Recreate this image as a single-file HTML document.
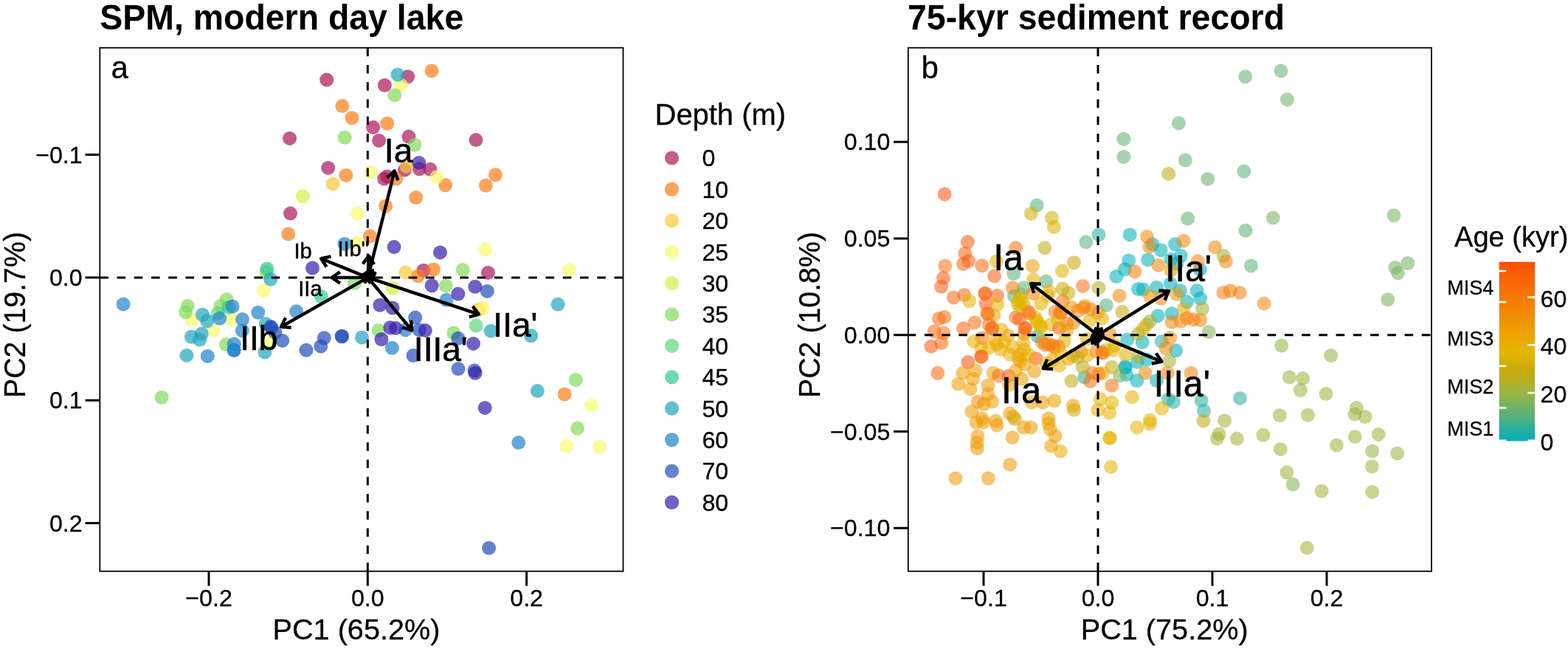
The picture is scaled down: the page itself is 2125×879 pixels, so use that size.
<!DOCTYPE html>
<html lang="en"><head><meta charset="utf-8"><title>PCA biplots</title>
<style>html,body{margin:0;padding:0;background:#fff}body{width:2125px;height:879px;overflow:hidden}svg{display:block;filter:blur(0.4px)}</style>
</head><body>
<svg width="2125" height="879" viewBox="0 0 2125 879" font-family='"Liberation Sans", Arial, Helvetica, sans-serif'>
<rect width="2125" height="879" fill="#fff"/>
<clipPath id="ca"><rect x="135.3" y="64.7" width="709.2" height="709.0"/></clipPath>
<g clip-path="url(#ca)" fill-opacity="0.7">
<circle cx="442.7" cy="108.1" r="9.5" fill="#AB165B"/>
<circle cx="392.5" cy="187.4" r="9.5" fill="#AB165B"/>
<circle cx="552.7" cy="103.8" r="9.5" fill="#AB165B"/>
<circle cx="521.4" cy="115.5" r="9.5" fill="#AB165B"/>
<circle cx="505.6" cy="172.5" r="9.5" fill="#AB165B"/>
<circle cx="513.6" cy="190.4" r="9.5" fill="#AB165B"/>
<circle cx="553.9" cy="185.1" r="9.5" fill="#AB165B"/>
<circle cx="645.0" cy="189.6" r="9.5" fill="#AB165B"/>
<circle cx="444.7" cy="227.4" r="9.5" fill="#AB165B"/>
<circle cx="393.5" cy="289.1" r="9.5" fill="#AB165B"/>
<circle cx="520.6" cy="242.1" r="9.5" fill="#AB165B"/>
<circle cx="524.6" cy="239.1" r="9.5" fill="#AB165B"/>
<circle cx="548.5" cy="230.1" r="9.5" fill="#AB165B"/>
<circle cx="568.3" cy="228.7" r="9.5" fill="#AB165B"/>
<circle cx="582.8" cy="229.2" r="9.5" fill="#AB165B"/>
<circle cx="574.0" cy="366.3" r="9.5" fill="#AB165B"/>
<circle cx="661.5" cy="369.4" r="9.5" fill="#AB165B"/>
<circle cx="463.8" cy="143.6" r="9.5" fill="#FB7C16"/>
<circle cx="477.0" cy="159.8" r="9.5" fill="#FB7C16"/>
<circle cx="585.0" cy="95.9" r="9.5" fill="#FB7C16"/>
<circle cx="524.8" cy="167.3" r="9.5" fill="#FB7C16"/>
<circle cx="468.9" cy="237.4" r="9.5" fill="#FB7C16"/>
<circle cx="390.7" cy="317.0" r="9.5" fill="#FB7C16"/>
<circle cx="536.8" cy="242.1" r="9.5" fill="#FB7C16"/>
<circle cx="603.7" cy="250.8" r="9.5" fill="#FB7C16"/>
<circle cx="671.4" cy="236.7" r="9.5" fill="#FB7C16"/>
<circle cx="658.4" cy="251.3" r="9.5" fill="#FB7C16"/>
<circle cx="563.7" cy="267.5" r="9.5" fill="#FB7C16"/>
<circle cx="522.6" cy="278.9" r="9.5" fill="#FB7C16"/>
<circle cx="501.4" cy="319.9" r="9.5" fill="#FB7C16"/>
<circle cx="566.5" cy="373.8" r="9.5" fill="#FB7C16"/>
<circle cx="587.5" cy="365.0" r="9.5" fill="#FB7C16"/>
<circle cx="765.1" cy="534.0" r="9.5" fill="#FB7C16"/>
<circle cx="451.1" cy="249.1" r="9.5" fill="#FCC737"/>
<circle cx="551.0" cy="225.4" r="9.5" fill="#FCC737"/>
<circle cx="549.6" cy="369.0" r="9.5" fill="#FCC737"/>
<circle cx="649.2" cy="419.1" r="9.5" fill="#FCC737"/>
<circle cx="543.5" cy="115.2" r="9.5" fill="#F9F96C"/>
<circle cx="484.5" cy="289.3" r="9.5" fill="#F9F96C"/>
<circle cx="483.7" cy="329.1" r="9.5" fill="#F9F96C"/>
<circle cx="503.0" cy="233.4" r="9.5" fill="#F9F96C"/>
<circle cx="592.0" cy="239.6" r="9.5" fill="#F9F96C"/>
<circle cx="657.7" cy="338.3" r="9.5" fill="#F9F96C"/>
<circle cx="357.2" cy="393.5" r="9.5" fill="#F9F96C"/>
<circle cx="260.0" cy="433.2" r="9.5" fill="#F9F96C"/>
<circle cx="313.2" cy="432.6" r="9.5" fill="#F9F96C"/>
<circle cx="288.8" cy="447.6" r="9.5" fill="#F9F96C"/>
<circle cx="367.7" cy="462.6" r="9.5" fill="#F9F96C"/>
<circle cx="771.6" cy="365.7" r="9.5" fill="#F9F96C"/>
<circle cx="654.5" cy="417.2" r="9.5" fill="#F9F96C"/>
<circle cx="801.4" cy="549.1" r="9.5" fill="#F9F96C"/>
<circle cx="767.9" cy="604.2" r="9.5" fill="#F9F96C"/>
<circle cx="812.7" cy="605.4" r="9.5" fill="#F9F96C"/>
<circle cx="410.6" cy="265.8" r="9.5" fill="#D1F147"/>
<circle cx="532.0" cy="390.5" r="9.5" fill="#D1F147"/>
<circle cx="467.1" cy="186.2" r="9.5" fill="#83DA5B"/>
<circle cx="534.8" cy="129.0" r="9.5" fill="#83DA5B"/>
<circle cx="561.9" cy="196.3" r="9.5" fill="#83DA5B"/>
<circle cx="361.0" cy="368.5" r="9.5" fill="#83DA5B"/>
<circle cx="480.4" cy="383.5" r="9.5" fill="#83DA5B"/>
<circle cx="254.2" cy="414.4" r="9.5" fill="#83DA5B"/>
<circle cx="251.5" cy="422.8" r="9.5" fill="#83DA5B"/>
<circle cx="307.0" cy="405.6" r="9.5" fill="#83DA5B"/>
<circle cx="298.8" cy="414.4" r="9.5" fill="#83DA5B"/>
<circle cx="306.4" cy="466.6" r="9.5" fill="#83DA5B"/>
<circle cx="604.3" cy="387.1" r="9.5" fill="#83DA5B"/>
<circle cx="627.3" cy="365.6" r="9.5" fill="#83DA5B"/>
<circle cx="513.2" cy="447.6" r="9.5" fill="#83DA5B"/>
<circle cx="614.7" cy="451.0" r="9.5" fill="#83DA5B"/>
<circle cx="780.2" cy="514.5" r="9.5" fill="#83DA5B"/>
<circle cx="782.6" cy="580.0" r="9.5" fill="#83DA5B"/>
<circle cx="219.1" cy="538.2" r="9.5" fill="#83DA5B"/>
<circle cx="295.1" cy="424.4" r="9.5" fill="#5ED67D"/>
<circle cx="645.2" cy="441.1" r="9.5" fill="#5ED67D"/>
<circle cx="361.9" cy="364.0" r="9.5" fill="#30C995"/>
<circle cx="435.2" cy="401.5" r="9.5" fill="#30C995"/>
<circle cx="310.1" cy="416.3" r="9.5" fill="#30C995"/>
<circle cx="539.0" cy="101.3" r="9.5" fill="#1FA5BC"/>
<circle cx="366.6" cy="378.2" r="9.5" fill="#1FA5BC"/>
<circle cx="274.4" cy="426.3" r="9.5" fill="#1FA5BC"/>
<circle cx="280.7" cy="434.8" r="9.5" fill="#1FA5BC"/>
<circle cx="259.4" cy="456.3" r="9.5" fill="#1FA5BC"/>
<circle cx="273.2" cy="452.0" r="9.5" fill="#1FA5BC"/>
<circle cx="270.7" cy="460.1" r="9.5" fill="#1FA5BC"/>
<circle cx="252.9" cy="481.4" r="9.5" fill="#1FA5BC"/>
<circle cx="360.2" cy="438.8" r="9.5" fill="#1FA5BC"/>
<circle cx="358.9" cy="477.0" r="9.5" fill="#1FA5BC"/>
<circle cx="756.1" cy="412.3" r="9.5" fill="#1FA5BC"/>
<circle cx="665.3" cy="448.3" r="9.5" fill="#1FA5BC"/>
<circle cx="490.5" cy="457.0" r="9.5" fill="#1FA5BC"/>
<circle cx="719.6" cy="454.8" r="9.5" fill="#1FA5BC"/>
<circle cx="728.3" cy="529.6" r="9.5" fill="#1FA5BC"/>
<circle cx="466.9" cy="330.4" r="9.5" fill="#1F83CA"/>
<circle cx="167.1" cy="412.1" r="9.5" fill="#1F83CA"/>
<circle cx="401.7" cy="421.8" r="9.5" fill="#1F83CA"/>
<circle cx="315.1" cy="415.0" r="9.5" fill="#1F83CA"/>
<circle cx="297.6" cy="431.3" r="9.5" fill="#1F83CA"/>
<circle cx="281.3" cy="482.4" r="9.5" fill="#1F83CA"/>
<circle cx="317.2" cy="466.1" r="9.5" fill="#1F83CA"/>
<circle cx="317.0" cy="474.1" r="9.5" fill="#1F83CA"/>
<circle cx="328.5" cy="432.6" r="9.5" fill="#1F83CA"/>
<circle cx="328.3" cy="447.8" r="9.5" fill="#1F83CA"/>
<circle cx="349.8" cy="423.2" r="9.5" fill="#1F83CA"/>
<circle cx="605.0" cy="406.3" r="9.5" fill="#1F83CA"/>
<circle cx="549.4" cy="446.9" r="9.5" fill="#1F83CA"/>
<circle cx="531.3" cy="471.3" r="9.5" fill="#1F83CA"/>
<circle cx="702.7" cy="599.6" r="9.5" fill="#1F83CA"/>
<circle cx="317.2" cy="474.6" r="9.5" fill="#1F83CA"/>
<circle cx="367.1" cy="442.6" r="9.5" fill="#224FB9"/>
<circle cx="372.7" cy="450.1" r="9.5" fill="#224FB9"/>
<circle cx="382.7" cy="461.4" r="9.5" fill="#224FB9"/>
<circle cx="415.0" cy="474.3" r="9.5" fill="#224FB9"/>
<circle cx="434.8" cy="469.0" r="9.5" fill="#224FB9"/>
<circle cx="439.3" cy="457.7" r="9.5" fill="#224FB9"/>
<circle cx="463.1" cy="455.2" r="9.5" fill="#224FB9"/>
<circle cx="463.6" cy="455.8" r="9.5" fill="#224FB9"/>
<circle cx="562.7" cy="430.1" r="9.5" fill="#224FB9"/>
<circle cx="660.3" cy="394.4" r="9.5" fill="#224FB9"/>
<circle cx="568.2" cy="446.9" r="9.5" fill="#224FB9"/>
<circle cx="560.0" cy="481.5" r="9.5" fill="#224FB9"/>
<circle cx="620.9" cy="458.2" r="9.5" fill="#224FB9"/>
<circle cx="621.0" cy="499.6" r="9.5" fill="#224FB9"/>
<circle cx="643.0" cy="501.8" r="9.5" fill="#224FB9"/>
<circle cx="662.6" cy="742.3" r="9.5" fill="#224FB9"/>
<circle cx="367.6" cy="443.6" r="9.5" fill="#224FB9"/>
<circle cx="567.8" cy="220.4" r="9.5" fill="#361CAB"/>
<circle cx="534.0" cy="334.6" r="9.5" fill="#361CAB"/>
<circle cx="596.5" cy="341.9" r="9.5" fill="#361CAB"/>
<circle cx="423.5" cy="363.0" r="9.5" fill="#361CAB"/>
<circle cx="585.2" cy="386.8" r="9.5" fill="#361CAB"/>
<circle cx="514.9" cy="413.2" r="9.5" fill="#361CAB"/>
<circle cx="532.0" cy="417.0" r="9.5" fill="#361CAB"/>
<circle cx="620.8" cy="398.1" r="9.5" fill="#361CAB"/>
<circle cx="643.9" cy="388.2" r="9.5" fill="#361CAB"/>
<circle cx="528.8" cy="443.8" r="9.5" fill="#361CAB"/>
<circle cx="536.3" cy="444.4" r="9.5" fill="#361CAB"/>
<circle cx="576.3" cy="447.6" r="9.5" fill="#361CAB"/>
<circle cx="516.9" cy="459.5" r="9.5" fill="#361CAB"/>
<circle cx="641.5" cy="465.4" r="9.5" fill="#361CAB"/>
<circle cx="644.0" cy="505.3" r="9.5" fill="#361CAB"/>
<circle cx="657.2" cy="552.4" r="9.5" fill="#361CAB"/>
</g>
<path d="M135.3 375.9H844.5" stroke="#000" stroke-width="3" stroke-dasharray="11.62 11.62" fill="none"/>
<path d="M498.3 64.7V773.7" stroke="#000" stroke-width="3" stroke-dasharray="11.62 11.62" fill="none"/>
<rect x="135.3" y="64.7" width="709.2" height="709.0" fill="none" stroke="#000" stroke-width="1.8"/>
<path d="M283.0 773.7v19.8" stroke="#000" stroke-width="3"/>
<text transform="translate(283.00 821.00) scale(1 1.0)" font-size="32.2" text-anchor="middle" stroke="#000" stroke-width="0.3" stroke-linejoin="round">−0.2</text>
<path d="M498.3 773.7v19.8" stroke="#000" stroke-width="3"/>
<text transform="translate(498.30 821.00) scale(1 1.0)" font-size="32.2" text-anchor="middle" stroke="#000" stroke-width="0.3" stroke-linejoin="round">0.0</text>
<path d="M713.6 773.7v19.8" stroke="#000" stroke-width="3"/>
<text transform="translate(713.60 821.00) scale(1 1.0)" font-size="32.2" text-anchor="middle" stroke="#000" stroke-width="0.3" stroke-linejoin="round">0.2</text>
<path d="M135.3 209.5h-19.8" stroke="#000" stroke-width="3"/>
<text transform="translate(111.70 220.60) scale(1 1.0)" font-size="32.2" text-anchor="end" stroke="#000" stroke-width="0.3" stroke-linejoin="round">−0.1</text>
<path d="M135.3 375.9h-19.8" stroke="#000" stroke-width="3"/>
<text transform="translate(111.70 387.00) scale(1 1.0)" font-size="32.2" text-anchor="end" stroke="#000" stroke-width="0.3" stroke-linejoin="round">0.0</text>
<path d="M135.3 542.2h-19.8" stroke="#000" stroke-width="3"/>
<text transform="translate(111.70 553.30) scale(1 1.0)" font-size="32.2" text-anchor="end" stroke="#000" stroke-width="0.3" stroke-linejoin="round">0.1</text>
<path d="M135.3 708.5h-19.8" stroke="#000" stroke-width="3"/>
<text transform="translate(111.70 719.60) scale(1 1.0)" font-size="32.2" text-anchor="end" stroke="#000" stroke-width="0.3" stroke-linejoin="round">0.2</text>
<text transform="translate(135.30 40.40) scale(1 1.03)" font-size="46.45" text-anchor="start" font-weight="bold">SPM, modern day lake</text>
<text transform="translate(483.00 866.00) scale(1 1.0)" font-size="39.65" text-anchor="middle" stroke="#000" stroke-width="0.3" stroke-linejoin="round">PC1 (65.2%)</text>
<text transform="translate(33.80 426.50) rotate(-90) scale(1 1.02)" font-size="39.3" text-anchor="middle" stroke="#000" stroke-width="0.3" stroke-linejoin="round">PC2 (19.7%)</text>
<text transform="translate(150.40 105.60) scale(1 1.0)" font-size="42.0" text-anchor="start" stroke="#000" stroke-width="0.3" stroke-linejoin="round">a</text>
<text transform="translate(887.60 168.90) scale(1 1.0)" font-size="39.9" text-anchor="start" stroke="#000" stroke-width="0.3" stroke-linejoin="round">Depth (m)</text>
<circle cx="910.5" cy="214.0" r="9.6" fill="#C45C8C"/>
<text transform="translate(951.40 225.40) scale(1 1.0)" font-size="32.2" text-anchor="start" stroke="#000" stroke-width="0.3" stroke-linejoin="round">0</text>
<circle cx="910.5" cy="256.4" r="9.6" fill="#FCA35C"/>
<text transform="translate(951.40 267.80) scale(1 1.0)" font-size="32.2" text-anchor="start" stroke="#000" stroke-width="0.3" stroke-linejoin="round">10</text>
<circle cx="910.5" cy="298.8" r="9.6" fill="#FDD873"/>
<text transform="translate(951.40 310.20) scale(1 1.0)" font-size="32.2" text-anchor="start" stroke="#000" stroke-width="0.3" stroke-linejoin="round">20</text>
<circle cx="910.5" cy="341.2" r="9.6" fill="#FBFB98"/>
<text transform="translate(951.40 352.60) scale(1 1.0)" font-size="32.2" text-anchor="start" stroke="#000" stroke-width="0.3" stroke-linejoin="round">25</text>
<circle cx="910.5" cy="383.6" r="9.6" fill="#DFF57E"/>
<text transform="translate(951.40 395.00) scale(1 1.0)" font-size="32.2" text-anchor="start" stroke="#000" stroke-width="0.3" stroke-linejoin="round">30</text>
<circle cx="910.5" cy="426.0" r="9.6" fill="#A8E58C"/>
<text transform="translate(951.40 437.40) scale(1 1.0)" font-size="32.2" text-anchor="start" stroke="#000" stroke-width="0.3" stroke-linejoin="round">35</text>
<circle cx="910.5" cy="468.4" r="9.6" fill="#8EE2A4"/>
<text transform="translate(951.40 479.80) scale(1 1.0)" font-size="32.2" text-anchor="start" stroke="#000" stroke-width="0.3" stroke-linejoin="round">40</text>
<circle cx="910.5" cy="510.8" r="9.6" fill="#6ED9B5"/>
<text transform="translate(951.40 522.20) scale(1 1.0)" font-size="32.2" text-anchor="start" stroke="#000" stroke-width="0.3" stroke-linejoin="round">45</text>
<circle cx="910.5" cy="553.2" r="9.6" fill="#62C0D0"/>
<text transform="translate(951.40 564.60) scale(1 1.0)" font-size="32.2" text-anchor="start" stroke="#000" stroke-width="0.3" stroke-linejoin="round">50</text>
<circle cx="910.5" cy="595.6" r="9.6" fill="#62A8DA"/>
<text transform="translate(951.40 607.00) scale(1 1.0)" font-size="32.2" text-anchor="start" stroke="#000" stroke-width="0.3" stroke-linejoin="round">60</text>
<circle cx="910.5" cy="638.0" r="9.6" fill="#6484CE"/>
<text transform="translate(951.40 649.40) scale(1 1.0)" font-size="32.2" text-anchor="start" stroke="#000" stroke-width="0.3" stroke-linejoin="round">70</text>
<circle cx="910.5" cy="680.4" r="9.6" fill="#7260C4"/>
<text transform="translate(951.40 691.80) scale(1 1.0)" font-size="32.2" text-anchor="start" stroke="#000" stroke-width="0.3" stroke-linejoin="round">80</text>
<clipPath id="cb"><rect x="1230.8" y="64.7" width="709.2" height="709.0"/></clipPath>
<g clip-path="url(#cb)" fill-opacity="0.57">
<circle cx="1522.8" cy="188.2" r="9.5" fill="#62B272"/>
<circle cx="1522.8" cy="212.5" r="9.5" fill="#62B272"/>
<circle cx="1687.7" cy="103.8" r="9.5" fill="#62B272"/>
<circle cx="1736.0" cy="95.9" r="9.5" fill="#62B272"/>
<circle cx="1597.4" cy="166.7" r="9.5" fill="#62B272"/>
<circle cx="1405.2" cy="278.1" r="9.5" fill="#54B17E"/>
<circle cx="1489.0" cy="317.9" r="9.5" fill="#22B0A4"/>
<circle cx="1471.8" cy="327.7" r="9.5" fill="#5BB178"/>
<circle cx="1531.2" cy="317.9" r="9.5" fill="#00AFBB"/>
<circle cx="1373.8" cy="370.5" r="9.5" fill="#54B17E"/>
<circle cx="1417.6" cy="381.3" r="9.5" fill="#54B17E"/>
<circle cx="1387.2" cy="390.0" r="9.5" fill="#54B17E"/>
<circle cx="1374.3" cy="400.9" r="9.5" fill="#54B17E"/>
<circle cx="1406.2" cy="455.5" r="9.5" fill="#2AB09E"/>
<circle cx="1561.8" cy="330.7" r="9.5" fill="#00AFBB"/>
<circle cx="1573.2" cy="338.7" r="9.5" fill="#00AFBB"/>
<circle cx="1592.5" cy="330.7" r="9.5" fill="#00AFBB"/>
<circle cx="1600.5" cy="346.6" r="9.5" fill="#00AFBB"/>
<circle cx="1609.6" cy="296.0" r="9.5" fill="#62B272"/>
<circle cx="1529.7" cy="352.9" r="9.5" fill="#00AFBB"/>
<circle cx="1524.3" cy="364.8" r="9.5" fill="#00AFBB"/>
<circle cx="1512.9" cy="374.5" r="9.5" fill="#00AFBB"/>
<circle cx="1555.6" cy="351.8" r="9.5" fill="#00AFBB"/>
<circle cx="1586.9" cy="351.2" r="9.5" fill="#00AFBB"/>
<circle cx="1594.8" cy="356.9" r="9.5" fill="#00AFBB"/>
<circle cx="1542.5" cy="391.4" r="9.5" fill="#00AFBB"/>
<circle cx="1549.3" cy="392.0" r="9.5" fill="#00AFBB"/>
<circle cx="1567.5" cy="389.2" r="9.5" fill="#00AFBB"/>
<circle cx="1586.3" cy="384.2" r="9.5" fill="#00AFBB"/>
<circle cx="1599.4" cy="393.7" r="9.5" fill="#00AFBB"/>
<circle cx="1622.1" cy="393.6" r="9.5" fill="#00AFBB"/>
<circle cx="1499.3" cy="413.4" r="9.5" fill="#54B17E"/>
<circle cx="1608.5" cy="408.8" r="9.5" fill="#00AFBB"/>
<circle cx="1626.7" cy="404.2" r="9.5" fill="#00AFBB"/>
<circle cx="1588.0" cy="424.8" r="9.5" fill="#00AFBB"/>
<circle cx="1569.2" cy="427.7" r="9.5" fill="#00AFBB"/>
<circle cx="1574.3" cy="462.4" r="9.5" fill="#2AB09E"/>
<circle cx="1548.2" cy="463.5" r="9.5" fill="#00AFBB"/>
<circle cx="1527.7" cy="460.1" r="9.5" fill="#00AFBB"/>
<circle cx="1593.6" cy="474.8" r="9.5" fill="#00AFBB"/>
<circle cx="1567.5" cy="515.5" r="9.5" fill="#00AFBB"/>
<circle cx="1540.8" cy="515.5" r="9.5" fill="#00AFBB"/>
<circle cx="1524.9" cy="496.7" r="9.5" fill="#00AFBB"/>
<circle cx="1526.6" cy="507.5" r="9.5" fill="#00AFBB"/>
<circle cx="1469.7" cy="511.0" r="9.5" fill="#2AB09E"/>
<circle cx="1541.4" cy="490.5" r="9.5" fill="#00AFBB"/>
<circle cx="1553.9" cy="487.1" r="9.5" fill="#00AFBB"/>
<circle cx="1583.4" cy="540.5" r="9.5" fill="#2AB09E"/>
<circle cx="1590.3" cy="544.5" r="9.5" fill="#2AB09E"/>
<circle cx="1628.2" cy="542.5" r="9.5" fill="#2AB09E"/>
<circle cx="1631.5" cy="556.5" r="9.5" fill="#2AB09E"/>
<circle cx="1685.8" cy="232.1" r="9.5" fill="#5BB178"/>
<circle cx="1688.0" cy="312.3" r="9.5" fill="#5BB178"/>
<circle cx="1695.5" cy="360.0" r="9.5" fill="#5BB178"/>
<circle cx="1626.1" cy="365.1" r="9.5" fill="#00AFBB"/>
<circle cx="1680.5" cy="539.4" r="9.5" fill="#2AB09E"/>
<circle cx="1525.3" cy="497.6" r="9.5" fill="#00AFBB"/>
<circle cx="1744.5" cy="134.7" r="9.5" fill="#71B366"/>
<circle cx="1606.4" cy="217.0" r="9.5" fill="#6AB26C"/>
<circle cx="1280.2" cy="263.0" r="9.5" fill="#FC5417"/>
<circle cx="1397.4" cy="289.3" r="9.5" fill="#D5AF06"/>
<circle cx="1425.5" cy="295.1" r="9.5" fill="#D5AF06"/>
<circle cx="1428.3" cy="307.5" r="9.5" fill="#DEB303"/>
<circle cx="1583.8" cy="235.4" r="9.5" fill="#C1AB13"/>
<circle cx="1554.6" cy="320.6" r="9.5" fill="#F3880C"/>
<circle cx="1415.8" cy="335.8" r="9.5" fill="#C1AB13"/>
<circle cx="1311.4" cy="327.8" r="9.5" fill="#FB5C17"/>
<circle cx="1307.8" cy="343.2" r="9.5" fill="#F96715"/>
<circle cx="1305.5" cy="357.5" r="9.5" fill="#F96715"/>
<circle cx="1312.7" cy="353.5" r="9.5" fill="#FA6115"/>
<circle cx="1280.7" cy="360.3" r="9.5" fill="#F87215"/>
<circle cx="1278.6" cy="376.5" r="9.5" fill="#FB5C17"/>
<circle cx="1275.6" cy="388.3" r="9.5" fill="#FB5C17"/>
<circle cx="1330.8" cy="359.7" r="9.5" fill="#F86C15"/>
<circle cx="1350.5" cy="354.0" r="9.5" fill="#E9AF01"/>
<circle cx="1347.6" cy="373.9" r="9.5" fill="#FA6115"/>
<circle cx="1376.6" cy="335.8" r="9.5" fill="#F67614"/>
<circle cx="1399.4" cy="360.3" r="9.5" fill="#EDA203"/>
<circle cx="1400.5" cy="378.5" r="9.5" fill="#DEB303"/>
<circle cx="1372.4" cy="389.8" r="9.5" fill="#F48110"/>
<circle cx="1383.4" cy="399.0" r="9.5" fill="#9AB442"/>
<circle cx="1422.1" cy="394.4" r="9.5" fill="#E7B400"/>
<circle cx="1292.4" cy="403.0" r="9.5" fill="#F86C15"/>
<circle cx="1306.7" cy="399.6" r="9.5" fill="#F86C15"/>
<circle cx="1313.5" cy="407.8" r="9.5" fill="#E9AF01"/>
<circle cx="1334.9" cy="397.5" r="9.5" fill="#F96715"/>
<circle cx="1351.5" cy="400.5" r="9.5" fill="#FA6115"/>
<circle cx="1336.2" cy="411.2" r="9.5" fill="#FB5C17"/>
<circle cx="1351.6" cy="412.3" r="9.5" fill="#E9AF01"/>
<circle cx="1337.9" cy="423.7" r="9.5" fill="#F67614"/>
<circle cx="1347.0" cy="427.1" r="9.5" fill="#EAAA02"/>
<circle cx="1272.5" cy="431.6" r="9.5" fill="#F86C15"/>
<circle cx="1279.9" cy="429.4" r="9.5" fill="#F87215"/>
<circle cx="1266.3" cy="448.7" r="9.5" fill="#F86C15"/>
<circle cx="1278.8" cy="451.0" r="9.5" fill="#F87215"/>
<circle cx="1261.9" cy="469.2" r="9.5" fill="#FB5C17"/>
<circle cx="1275.9" cy="464.6" r="9.5" fill="#F86C15"/>
<circle cx="1305.5" cy="444.7" r="9.5" fill="#F86C15"/>
<circle cx="1320.9" cy="436.8" r="9.5" fill="#F87215"/>
<circle cx="1344.8" cy="444.2" r="9.5" fill="#F96715"/>
<circle cx="1340.2" cy="439.6" r="9.5" fill="#F67614"/>
<circle cx="1357.3" cy="446.4" r="9.5" fill="#E9AF01"/>
<circle cx="1366.4" cy="454.4" r="9.5" fill="#EF9A04"/>
<circle cx="1331.1" cy="457.8" r="9.5" fill="#F67614"/>
<circle cx="1319.7" cy="462.4" r="9.5" fill="#EAAA02"/>
<circle cx="1350.5" cy="466.9" r="9.5" fill="#E9AF01"/>
<circle cx="1330.0" cy="471.5" r="9.5" fill="#E9AF01"/>
<circle cx="1330.0" cy="483.0" r="9.5" fill="#FA6115"/>
<circle cx="1368.2" cy="479.8" r="9.5" fill="#E7B400"/>
<circle cx="1376.6" cy="429.9" r="9.5" fill="#F96715"/>
<circle cx="1392.5" cy="421.4" r="9.5" fill="#F87215"/>
<circle cx="1389.1" cy="444.2" r="9.5" fill="#F96715"/>
<circle cx="1388.0" cy="452.1" r="9.5" fill="#F87215"/>
<circle cx="1380.0" cy="406.6" r="9.5" fill="#E2B501"/>
<circle cx="1386.9" cy="411.2" r="9.5" fill="#E2B501"/>
<circle cx="1383.0" cy="416.0" r="9.5" fill="#DAB104"/>
<circle cx="1405.1" cy="433.9" r="9.5" fill="#E2B501"/>
<circle cx="1410.8" cy="441.9" r="9.5" fill="#E2B501"/>
<circle cx="1410.8" cy="411.2" r="9.5" fill="#E9AF01"/>
<circle cx="1400.5" cy="397.5" r="9.5" fill="#F48110"/>
<circle cx="1419.9" cy="400.9" r="9.5" fill="#E9AF01"/>
<circle cx="1416.4" cy="466.9" r="9.5" fill="#F67614"/>
<circle cx="1426.7" cy="468.0" r="9.5" fill="#F67C14"/>
<circle cx="1386.9" cy="464.6" r="9.5" fill="#E9AF01"/>
<circle cx="1388.0" cy="473.7" r="9.5" fill="#EAAA02"/>
<circle cx="1403.9" cy="485.5" r="9.5" fill="#FC5417"/>
<circle cx="1430.1" cy="422.5" r="9.5" fill="#F67C14"/>
<circle cx="1424.4" cy="439.6" r="9.5" fill="#E9AF01"/>
<circle cx="1311.8" cy="490.5" r="9.5" fill="#FC5417"/>
<circle cx="1270.8" cy="505.3" r="9.5" fill="#F96715"/>
<circle cx="1304.9" cy="505.3" r="9.5" fill="#EE9F03"/>
<circle cx="1322.0" cy="501.9" r="9.5" fill="#EE9F03"/>
<circle cx="1318.6" cy="513.2" r="9.5" fill="#EE9F03"/>
<circle cx="1298.7" cy="520.1" r="9.5" fill="#EE9F03"/>
<circle cx="1315.2" cy="526.9" r="9.5" fill="#EE9F03"/>
<circle cx="1345.9" cy="505.3" r="9.5" fill="#EDA203"/>
<circle cx="1353.3" cy="508.7" r="9.5" fill="#F86C15"/>
<circle cx="1367.0" cy="509.2" r="9.5" fill="#FB5C17"/>
<circle cx="1339.1" cy="521.8" r="9.5" fill="#EF9A04"/>
<circle cx="1339.1" cy="533.7" r="9.5" fill="#EF9A04"/>
<circle cx="1325.4" cy="543.9" r="9.5" fill="#F09404"/>
<circle cx="1333.4" cy="547.4" r="9.5" fill="#F09404"/>
<circle cx="1344.8" cy="543.9" r="9.5" fill="#EDA203"/>
<circle cx="1316.9" cy="557.5" r="9.5" fill="#EF9A04"/>
<circle cx="1368.7" cy="559.9" r="9.5" fill="#EE9F03"/>
<circle cx="1373.2" cy="564.4" r="9.5" fill="#EE9F03"/>
<circle cx="1367.5" cy="521.2" r="9.5" fill="#EE9F03"/>
<circle cx="1384.6" cy="513.2" r="9.5" fill="#EE9F03"/>
<circle cx="1382.3" cy="489.3" r="9.5" fill="#EAAA02"/>
<circle cx="1382.3" cy="480.2" r="9.5" fill="#EDA203"/>
<circle cx="1401.7" cy="503.0" r="9.5" fill="#EE9F03"/>
<circle cx="1398.2" cy="545.1" r="9.5" fill="#EE9F03"/>
<circle cx="1413.0" cy="545.1" r="9.5" fill="#EE9F03"/>
<circle cx="1429.0" cy="542.8" r="9.5" fill="#EE9F03"/>
<circle cx="1340.2" cy="471.1" r="9.5" fill="#E9AF01"/>
<circle cx="1356.1" cy="473.4" r="9.5" fill="#E9AF01"/>
<circle cx="1331.1" cy="566.7" r="9.5" fill="#EE9F03"/>
<circle cx="1421.0" cy="566.7" r="9.5" fill="#EE9F03"/>
<circle cx="1349.3" cy="570.1" r="9.5" fill="#EE9F03"/>
<circle cx="1376.6" cy="501.9" r="9.5" fill="#EE9F03"/>
<circle cx="1323.2" cy="572.1" r="9.5" fill="#EE9F03"/>
<circle cx="1332.8" cy="572.1" r="9.5" fill="#EF9A04"/>
<circle cx="1351.0" cy="576.0" r="9.5" fill="#EF9A04"/>
<circle cx="1324.9" cy="590.8" r="9.5" fill="#EF9A04"/>
<circle cx="1324.3" cy="599.4" r="9.5" fill="#EF9A04"/>
<circle cx="1324.3" cy="607.3" r="9.5" fill="#EF9A04"/>
<circle cx="1372.1" cy="592.5" r="9.5" fill="#EF9A04"/>
<circle cx="1375.5" cy="567.5" r="9.5" fill="#D1AD07"/>
<circle cx="1387.4" cy="578.9" r="9.5" fill="#EF9A04"/>
<circle cx="1397.1" cy="578.9" r="9.5" fill="#EF9A04"/>
<circle cx="1421.0" cy="573.2" r="9.5" fill="#EDA203"/>
<circle cx="1423.3" cy="581.2" r="9.5" fill="#EDA203"/>
<circle cx="1424.4" cy="603.9" r="9.5" fill="#EE9F03"/>
<circle cx="1368.7" cy="629.2" r="9.5" fill="#EF9A04"/>
<circle cx="1295.0" cy="647.7" r="9.5" fill="#EF9A04"/>
<circle cx="1339.3" cy="647.7" r="9.5" fill="#EF9A04"/>
<circle cx="1430.0" cy="590.5" r="9.5" fill="#EE9F03"/>
<circle cx="1557.8" cy="334.1" r="9.5" fill="#F3880C"/>
<circle cx="1603.9" cy="326.2" r="9.5" fill="#F3880C"/>
<circle cx="1455.5" cy="355.7" r="9.5" fill="#C9A90A"/>
<circle cx="1439.5" cy="367.1" r="9.5" fill="#DEB303"/>
<circle cx="1537.9" cy="367.7" r="9.5" fill="#F48110"/>
<circle cx="1569.8" cy="359.2" r="9.5" fill="#F3880C"/>
<circle cx="1586.9" cy="366.0" r="9.5" fill="#F09404"/>
<circle cx="1623.3" cy="353.8" r="9.5" fill="#F3880C"/>
<circle cx="1467.6" cy="387.4" r="9.5" fill="#F87215"/>
<circle cx="1489.0" cy="389.9" r="9.5" fill="#B6AE20"/>
<circle cx="1440.1" cy="391.0" r="9.5" fill="#C9A90A"/>
<circle cx="1448.0" cy="396.7" r="9.5" fill="#C9A90A"/>
<circle cx="1516.9" cy="400.5" r="9.5" fill="#F3880C"/>
<circle cx="1558.4" cy="400.5" r="9.5" fill="#F09404"/>
<circle cx="1594.8" cy="398.5" r="9.5" fill="#F09404"/>
<circle cx="1520.9" cy="422.5" r="9.5" fill="#C9A90A"/>
<circle cx="1573.2" cy="404.3" r="9.5" fill="#F3880C"/>
<circle cx="1603.9" cy="419.0" r="9.5" fill="#EAAA02"/>
<circle cx="1629.5" cy="418.0" r="9.5" fill="#A5B234"/>
<circle cx="1608.5" cy="431.0" r="9.5" fill="#F48110"/>
<circle cx="1617.6" cy="432.8" r="9.5" fill="#F48110"/>
<circle cx="1626.7" cy="433.5" r="9.5" fill="#F3880C"/>
<circle cx="1588.0" cy="436.2" r="9.5" fill="#F3880C"/>
<circle cx="1600.0" cy="435.5" r="9.5" fill="#F3880C"/>
<circle cx="1558.4" cy="435.1" r="9.5" fill="#A5B234"/>
<circle cx="1553.9" cy="439.6" r="9.5" fill="#A5B234"/>
<circle cx="1549.3" cy="445.3" r="9.5" fill="#E9AF01"/>
<circle cx="1542.5" cy="452.1" r="9.5" fill="#B6AE20"/>
<circle cx="1585.7" cy="457.5" r="9.5" fill="#F3880C"/>
<circle cx="1580.0" cy="471.8" r="9.5" fill="#F3880C"/>
<circle cx="1503.8" cy="452.1" r="9.5" fill="#F3880C"/>
<circle cx="1510.6" cy="468.0" r="9.5" fill="#C9A90A"/>
<circle cx="1499.3" cy="473.7" r="9.5" fill="#DEB303"/>
<circle cx="1494.7" cy="478.3" r="9.5" fill="#F67C14"/>
<circle cx="1525.4" cy="480.6" r="9.5" fill="#DEB303"/>
<circle cx="1542.5" cy="482.8" r="9.5" fill="#B6AE20"/>
<circle cx="1440.1" cy="407.8" r="9.5" fill="#F67C14"/>
<circle cx="1436.7" cy="423.7" r="9.5" fill="#F67614"/>
<circle cx="1468.5" cy="416.9" r="9.5" fill="#F3880C"/>
<circle cx="1478.8" cy="419.1" r="9.5" fill="#F48110"/>
<circle cx="1487.9" cy="423.7" r="9.5" fill="#F3880C"/>
<circle cx="1493.6" cy="431.6" r="9.5" fill="#E7B400"/>
<circle cx="1476.5" cy="435.1" r="9.5" fill="#E7B400"/>
<circle cx="1445.8" cy="438.5" r="9.5" fill="#F67C14"/>
<circle cx="1435.6" cy="444.2" r="9.5" fill="#F96715"/>
<circle cx="1434.4" cy="433.9" r="9.5" fill="#E7B400"/>
<circle cx="1455.0" cy="437.0" r="9.5" fill="#F3880C"/>
<circle cx="1442.4" cy="462.4" r="9.5" fill="#DEB303"/>
<circle cx="1434.4" cy="469.2" r="9.5" fill="#F67C14"/>
<circle cx="1473.1" cy="458.9" r="9.5" fill="#DEB303"/>
<circle cx="1465.1" cy="476.0" r="9.5" fill="#F67C14"/>
<circle cx="1453.8" cy="481.7" r="9.5" fill="#C9A90A"/>
<circle cx="1485.6" cy="476.0" r="9.5" fill="#F67C14"/>
<circle cx="1584.6" cy="489.3" r="9.5" fill="#A5B234"/>
<circle cx="1582.3" cy="505.3" r="9.5" fill="#F3880C"/>
<circle cx="1614.2" cy="505.2" r="9.5" fill="#F3880C"/>
<circle cx="1552.2" cy="505.3" r="9.5" fill="#F3880C"/>
<circle cx="1517.5" cy="508.7" r="9.5" fill="#78B360"/>
<circle cx="1506.7" cy="497.3" r="9.5" fill="#C1AB13"/>
<circle cx="1480.5" cy="505.3" r="9.5" fill="#F67C14"/>
<circle cx="1494.7" cy="505.3" r="9.5" fill="#E7B400"/>
<circle cx="1477.6" cy="516.6" r="9.5" fill="#F87215"/>
<circle cx="1506.7" cy="522.3" r="9.5" fill="#F87215"/>
<circle cx="1452.0" cy="516.1" r="9.5" fill="#C1AB13"/>
<circle cx="1467.4" cy="497.3" r="9.5" fill="#C1AB13"/>
<circle cx="1435.6" cy="495.0" r="9.5" fill="#E7B400"/>
<circle cx="1448.1" cy="485.9" r="9.5" fill="#E9AF01"/>
<circle cx="1460.6" cy="483.7" r="9.5" fill="#C9A90A"/>
<circle cx="1473.1" cy="481.4" r="9.5" fill="#DEB303"/>
<circle cx="1508.4" cy="474.6" r="9.5" fill="#E7B400"/>
<circle cx="1534.3" cy="537.7" r="9.5" fill="#E7B400"/>
<circle cx="1491.3" cy="540.5" r="9.5" fill="#E7B400"/>
<circle cx="1506.7" cy="545.1" r="9.5" fill="#E2B501"/>
<circle cx="1487.9" cy="555.3" r="9.5" fill="#E7B400"/>
<circle cx="1503.8" cy="559.0" r="9.5" fill="#E7B400"/>
<circle cx="1454.3" cy="549.6" r="9.5" fill="#EDA203"/>
<circle cx="1455.5" cy="555.3" r="9.5" fill="#D1AD07"/>
<circle cx="1574.5" cy="553.3" r="9.5" fill="#E7B400"/>
<circle cx="1558.4" cy="569.0" r="9.5" fill="#E7B400"/>
<circle cx="1631.0" cy="570.0" r="9.5" fill="#C1AB13"/>
<circle cx="1540.8" cy="578.9" r="9.5" fill="#E7B400"/>
<circle cx="1558.4" cy="573.8" r="9.5" fill="#E7B400"/>
<circle cx="1503.8" cy="593.1" r="9.5" fill="#E7B400"/>
<circle cx="1504.2" cy="593.6" r="9.5" fill="#E7B400"/>
<circle cx="1505.5" cy="632.4" r="9.5" fill="#E7B400"/>
<circle cx="1437.3" cy="611.3" r="9.5" fill="#E9AF01"/>
<circle cx="1636.7" cy="242.4" r="9.5" fill="#6AB26C"/>
<circle cx="1725.3" cy="295.1" r="9.5" fill="#78B360"/>
<circle cx="1889.0" cy="291.8" r="9.5" fill="#78B360"/>
<circle cx="1646.7" cy="334.9" r="9.5" fill="#F3880C"/>
<circle cx="1658.2" cy="346.6" r="9.5" fill="#9AB442"/>
<circle cx="1661.4" cy="354.1" r="9.5" fill="#F3880C"/>
<circle cx="1907.9" cy="356.5" r="9.5" fill="#78B360"/>
<circle cx="1890.9" cy="362.5" r="9.5" fill="#78B360"/>
<circle cx="1894.5" cy="369.8" r="9.5" fill="#78B360"/>
<circle cx="1880.8" cy="405.7" r="9.5" fill="#7FB35A"/>
<circle cx="1657.9" cy="396.5" r="9.5" fill="#F48110"/>
<circle cx="1667.4" cy="393.8" r="9.5" fill="#F48110"/>
<circle cx="1680.1" cy="396.4" r="9.5" fill="#F48110"/>
<circle cx="1713.1" cy="411.1" r="9.5" fill="#F3880C"/>
<circle cx="1638.2" cy="449.5" r="9.5" fill="#86B354"/>
<circle cx="1736.7" cy="468.0" r="9.5" fill="#93B448"/>
<circle cx="1803.7" cy="481.5" r="9.5" fill="#93B448"/>
<circle cx="1747.4" cy="511.0" r="9.5" fill="#9AB442"/>
<circle cx="1765.8" cy="512.6" r="9.5" fill="#9AB442"/>
<circle cx="1762.4" cy="528.5" r="9.5" fill="#9AB442"/>
<circle cx="1797.0" cy="533.5" r="9.5" fill="#9AB442"/>
<circle cx="1659.6" cy="569.8" r="9.5" fill="#A5B234"/>
<circle cx="1652.1" cy="587.9" r="9.5" fill="#A5B234"/>
<circle cx="1649.5" cy="593.7" r="9.5" fill="#A5B234"/>
<circle cx="1676.3" cy="594.1" r="9.5" fill="#A5B234"/>
<circle cx="1711.9" cy="589.2" r="9.5" fill="#A5B234"/>
<circle cx="1734.3" cy="562.5" r="9.5" fill="#A0B33B"/>
<circle cx="1772.5" cy="562.3" r="9.5" fill="#A0B33B"/>
<circle cx="1838.5" cy="552.4" r="9.5" fill="#9AB442"/>
<circle cx="1836.0" cy="561.1" r="9.5" fill="#9AB442"/>
<circle cx="1850.2" cy="564.5" r="9.5" fill="#9AB442"/>
<circle cx="1836.3" cy="591.6" r="9.5" fill="#9AB442"/>
<circle cx="1868.3" cy="588.4" r="9.5" fill="#9AB442"/>
<circle cx="1811.3" cy="603.0" r="9.5" fill="#A0B33B"/>
<circle cx="1735.3" cy="608.4" r="9.5" fill="#A5B234"/>
<circle cx="1859.7" cy="611.0" r="9.5" fill="#93B448"/>
<circle cx="1893.7" cy="614.0" r="9.5" fill="#9AB442"/>
<circle cx="1859.4" cy="631.8" r="9.5" fill="#A0B33B"/>
<circle cx="1743.9" cy="639.8" r="9.5" fill="#A5B234"/>
<circle cx="1752.1" cy="656.0" r="9.5" fill="#86B354"/>
<circle cx="1791.2" cy="665.2" r="9.5" fill="#A5B234"/>
<circle cx="1859.7" cy="666.4" r="9.5" fill="#A5B234"/>
<circle cx="1771.3" cy="742.1" r="9.5" fill="#A5B234"/>
<circle cx="1383.8" cy="405.1" r="9.5" fill="#E6B700"/>
<circle cx="1379.0" cy="411.5" r="9.5" fill="#E7B400"/>
<circle cx="1406.3" cy="436.7" r="9.5" fill="#E6B700"/>
<circle cx="1410.2" cy="443.0" r="9.5" fill="#E7B400"/>
<circle cx="1403.0" cy="430.0" r="9.5" fill="#E2B501"/>
<circle cx="1344.2" cy="445.2" r="9.5" fill="#F86C15"/>
<circle cx="1335.0" cy="397.4" r="9.5" fill="#F86C15"/>
<circle cx="1389.6" cy="445.0" r="9.5" fill="#F86C15"/>
<circle cx="1437.9" cy="423.5" r="9.5" fill="#F67C14"/>
<circle cx="1329.7" cy="482.9" r="9.5" fill="#F96715"/>
<circle cx="1420.8" cy="465.8" r="9.5" fill="#F48110"/>
<circle cx="1412.0" cy="463.0" r="9.5" fill="#F4850D"/>
<circle cx="1428.5" cy="470.5" r="9.5" fill="#F48110"/>
<circle cx="1395.0" cy="424.0" r="9.5" fill="#F67614"/>
<circle cx="1381.5" cy="432.5" r="9.5" fill="#F86C15"/>
<circle cx="1338.5" cy="425.5" r="9.5" fill="#F87215"/>
<circle cx="1452.5" cy="416.5" r="9.5" fill="#F09404"/>
<circle cx="1461.0" cy="421.0" r="9.5" fill="#F18F07"/>
<circle cx="1470.5" cy="414.5" r="9.5" fill="#F3880C"/>
<circle cx="1446.0" cy="447.5" r="9.5" fill="#EDA203"/>
<circle cx="1349.5" cy="460.0" r="9.5" fill="#EAAA02"/>
<circle cx="1360.5" cy="463.5" r="9.5" fill="#E9AF01"/>
<circle cx="1372.5" cy="470.5" r="9.5" fill="#EAAA02"/>
<circle cx="1380.0" cy="485.0" r="9.5" fill="#EAAA02"/>
<circle cx="1388.5" cy="493.5" r="9.5" fill="#EDA203"/>
<circle cx="1395.0" cy="481.0" r="9.5" fill="#E9AF01"/>
<circle cx="1427.0" cy="487.0" r="9.5" fill="#EDA203"/>
<circle cx="1437.0" cy="478.0" r="9.5" fill="#E9AF01"/>
<circle cx="1418.0" cy="492.0" r="9.5" fill="#E2B501"/>
<circle cx="1489.0" cy="506.5" r="9.5" fill="#F67C14"/>
<circle cx="1493.5" cy="477.0" r="9.5" fill="#F48110"/>
</g>
<path d="M1229.6 453.7H1940.0" stroke="#000" stroke-width="3" stroke-dasharray="11.62 11.62" fill="none"/>
<path d="M1488.0 64.7V773.7" stroke="#000" stroke-width="3" stroke-dasharray="11.62 11.62" fill="none"/>
<rect x="1230.8" y="64.7" width="709.2" height="709.0" fill="none" stroke="#000" stroke-width="1.8"/>
<path d="M1333.0 773.7v19.8" stroke="#000" stroke-width="3"/>
<text transform="translate(1333.00 821.00) scale(1 1.0)" font-size="32.2" text-anchor="middle" stroke="#000" stroke-width="0.3" stroke-linejoin="round">−0.1</text>
<path d="M1488.0 773.7v19.8" stroke="#000" stroke-width="3"/>
<text transform="translate(1488.00 821.00) scale(1 1.0)" font-size="32.2" text-anchor="middle" stroke="#000" stroke-width="0.3" stroke-linejoin="round">0.0</text>
<path d="M1643.0 773.7v19.8" stroke="#000" stroke-width="3"/>
<text transform="translate(1643.00 821.00) scale(1 1.0)" font-size="32.2" text-anchor="middle" stroke="#000" stroke-width="0.3" stroke-linejoin="round">0.1</text>
<path d="M1798.0 773.7v19.8" stroke="#000" stroke-width="3"/>
<text transform="translate(1798.00 821.00) scale(1 1.0)" font-size="32.2" text-anchor="middle" stroke="#000" stroke-width="0.3" stroke-linejoin="round">0.2</text>
<path d="M1230.8 192.2h-19.8" stroke="#000" stroke-width="3"/>
<text transform="translate(1206.40 203.30) scale(1 1.0)" font-size="32.2" text-anchor="end" stroke="#000" stroke-width="0.3" stroke-linejoin="round">0.10</text>
<path d="M1230.8 323.0h-19.8" stroke="#000" stroke-width="3"/>
<text transform="translate(1206.40 334.10) scale(1 1.0)" font-size="32.2" text-anchor="end" stroke="#000" stroke-width="0.3" stroke-linejoin="round">0.05</text>
<path d="M1230.8 453.7h-19.8" stroke="#000" stroke-width="3"/>
<text transform="translate(1206.40 464.80) scale(1 1.0)" font-size="32.2" text-anchor="end" stroke="#000" stroke-width="0.3" stroke-linejoin="round">0.00</text>
<path d="M1230.8 584.4h-19.8" stroke="#000" stroke-width="3"/>
<text transform="translate(1206.40 595.50) scale(1 1.0)" font-size="32.2" text-anchor="end" stroke="#000" stroke-width="0.3" stroke-linejoin="round">−0.05</text>
<path d="M1230.8 715.2h-19.8" stroke="#000" stroke-width="3"/>
<text transform="translate(1206.40 726.30) scale(1 1.0)" font-size="32.2" text-anchor="end" stroke="#000" stroke-width="0.3" stroke-linejoin="round">−0.10</text>
<text transform="translate(1230.00 40.40) scale(1 1.03)" font-size="46.45" text-anchor="start" font-weight="bold">75-kyr sediment record</text>
<text transform="translate(1578.20 866.00) scale(1 1.0)" font-size="39.65" text-anchor="middle" stroke="#000" stroke-width="0.3" stroke-linejoin="round">PC1 (75.2%)</text>
<text transform="translate(1111.40 426.50) rotate(-90) scale(1 1.02)" font-size="39.3" text-anchor="middle" stroke="#000" stroke-width="0.3" stroke-linejoin="round">PC2 (10.8%)</text>
<text transform="translate(1248.50 105.60) scale(1 1.0)" font-size="42.0" text-anchor="start" stroke="#000" stroke-width="0.3" stroke-linejoin="round">b</text>
<defs><linearGradient id="cbg" x1="0" y1="1" x2="0" y2="0">
<stop offset="0.0000" stop-color="#00AFBB"/>
<stop offset="0.0250" stop-color="#0EAFB1"/>
<stop offset="0.0500" stop-color="#1EB0A6"/>
<stop offset="0.0750" stop-color="#2DB09B"/>
<stop offset="0.1000" stop-color="#3DB08F"/>
<stop offset="0.1250" stop-color="#4DB183"/>
<stop offset="0.1500" stop-color="#5BB178"/>
<stop offset="0.1750" stop-color="#69B26D"/>
<stop offset="0.2000" stop-color="#76B361"/>
<stop offset="0.2250" stop-color="#83B356"/>
<stop offset="0.2500" stop-color="#90B44B"/>
<stop offset="0.2750" stop-color="#9CB43F"/>
<stop offset="0.3000" stop-color="#A7B132"/>
<stop offset="0.3250" stop-color="#B1AF26"/>
<stop offset="0.3500" stop-color="#BAAD1B"/>
<stop offset="0.3750" stop-color="#C1AB13"/>
<stop offset="0.4000" stop-color="#C8A90B"/>
<stop offset="0.4250" stop-color="#D0AC08"/>
<stop offset="0.4500" stop-color="#D8B005"/>
<stop offset="0.4750" stop-color="#DFB402"/>
<stop offset="0.5000" stop-color="#E6B600"/>
<stop offset="0.5250" stop-color="#E8B101"/>
<stop offset="0.5500" stop-color="#EAAC02"/>
<stop offset="0.5750" stop-color="#EBA702"/>
<stop offset="0.6000" stop-color="#EDA303"/>
<stop offset="0.6250" stop-color="#EE9D03"/>
<stop offset="0.6500" stop-color="#EF9804"/>
<stop offset="0.6750" stop-color="#F09304"/>
<stop offset="0.7000" stop-color="#F18E04"/>
<stop offset="0.7250" stop-color="#F38805"/>
<stop offset="0.7500" stop-color="#F48305"/>
<stop offset="0.7750" stop-color="#F47E05"/>
<stop offset="0.8000" stop-color="#F57905"/>
<stop offset="0.8250" stop-color="#F67306"/>
<stop offset="0.8500" stop-color="#F76E06"/>
<stop offset="0.8750" stop-color="#F86906"/>
<stop offset="0.9000" stop-color="#F96406"/>
<stop offset="0.9250" stop-color="#FA5E06"/>
<stop offset="0.9500" stop-color="#FA5907"/>
<stop offset="0.9750" stop-color="#FB5407"/>
<stop offset="1.0000" stop-color="#FC4F07"/>
</linearGradient></defs>
<rect x="2031.7" y="354.7" width="48.4" height="242.7" fill="url(#cbg)"/>
<path d="M2080.1 402.6h-9.7" stroke="#fff" stroke-width="2.6"/>
<text transform="translate(2087.50 415.50) scale(1 1.0)" font-size="32.2" text-anchor="start" stroke="#000" stroke-width="0.3" stroke-linejoin="round">60</text>
<path d="M2080.1 467.3h-9.7" stroke="#fff" stroke-width="2.6"/>
<text transform="translate(2087.50 480.20) scale(1 1.0)" font-size="32.2" text-anchor="start" stroke="#000" stroke-width="0.3" stroke-linejoin="round">40</text>
<path d="M2080.1 532.0h-9.7" stroke="#fff" stroke-width="2.6"/>
<text transform="translate(2087.50 544.90) scale(1 1.0)" font-size="32.2" text-anchor="start" stroke="#000" stroke-width="0.3" stroke-linejoin="round">20</text>
<path d="M2080.1 596.7h-9.7" stroke="#fff" stroke-width="2.6"/>
<text transform="translate(2087.50 609.60) scale(1 1.0)" font-size="32.2" text-anchor="start" stroke="#000" stroke-width="0.3" stroke-linejoin="round">0</text>
<path d="M2031.7 367.0h9.7" stroke="#fff" stroke-width="2.6"/>
<path d="M2031.7 409.1h9.7" stroke="#fff" stroke-width="2.6"/>
<path d="M2031.7 495.8h9.7" stroke="#fff" stroke-width="2.6"/>
<path d="M2031.7 552.4h9.7" stroke="#fff" stroke-width="2.6"/>
<path d="M2031.7 596.7h9.7" stroke="#fff" stroke-width="2.6"/>
<text transform="translate(1961.20 398.70) scale(1 1.02)" font-size="27.1" text-anchor="start" stroke="#000" stroke-width="0.3" stroke-linejoin="round">MIS4</text>
<text transform="translate(1961.20 468.00) scale(1 1.02)" font-size="27.1" text-anchor="start" stroke="#000" stroke-width="0.3" stroke-linejoin="round">MIS3</text>
<text transform="translate(1961.20 533.00) scale(1 1.02)" font-size="27.1" text-anchor="start" stroke="#000" stroke-width="0.3" stroke-linejoin="round">MIS2</text>
<text transform="translate(1961.20 589.90) scale(1 1.02)" font-size="27.1" text-anchor="start" stroke="#000" stroke-width="0.3" stroke-linejoin="round">MIS1</text>
<text transform="translate(1971.00 334.30) scale(1 1.02)" font-size="38.1" text-anchor="start" stroke="#000" stroke-width="0.3" stroke-linejoin="round">Age (kyr)</text>
<path d="M498.6 375.9L534.7 231.5M539.4 244.3L534.7 231.5L524.6 240.6" fill="none" stroke="#000" stroke-width="4.4" stroke-linecap="butt" stroke-linejoin="round"/>
<path d="M498.6 375.9L381.0 442.6M387.0 430.4L381.0 442.6L394.6 443.7" fill="none" stroke="#000" stroke-width="4.4" stroke-linecap="butt" stroke-linejoin="round"/>
<path d="M498.6 375.9L648.9 425.7M635.8 429.4L648.9 425.7L640.6 414.9" fill="none" stroke="#000" stroke-width="4.4" stroke-linecap="butt" stroke-linejoin="round"/>
<path d="M498.6 375.9L558.2 447.3M545.1 443.5L558.2 447.3L556.9 433.7" fill="none" stroke="#000" stroke-width="4.4" stroke-linecap="butt" stroke-linejoin="round"/>
<path d="M498.6 375.9L435.1 350.2M448.4 347.3L435.1 350.2L442.6 361.5" fill="none" stroke="#000" stroke-width="4.4" stroke-linecap="butt" stroke-linejoin="round"/>
<path d="M498.6 375.9L449.6 376.0M460.8 368.3L449.6 376.0L460.9 383.6" fill="none" stroke="#000" stroke-width="4.4" stroke-linecap="butt" stroke-linejoin="round"/>
<path d="M498.6 375.9L499.8 346.5M507.0 358.1L499.8 346.5L491.7 357.4" fill="none" stroke="#000" stroke-width="4.4" stroke-linecap="butt" stroke-linejoin="round"/>
<path d="M498.6 375.9L501.2 370.8M502.4 382.9L501.2 370.8L490.8 377.1" fill="none" stroke="#000" stroke-width="4.4" stroke-linecap="butt" stroke-linejoin="round"/>
<path d="M498.6 375.9L505.0 366.2M504.8 378.4L505.0 366.2L493.9 371.2" fill="none" stroke="#000" stroke-width="4.4" stroke-linecap="butt" stroke-linejoin="round"/>
<path d="M498.6 375.9L508.2 369.9M502.9 380.9L508.2 369.9L496.1 369.8" fill="none" stroke="#000" stroke-width="4.4" stroke-linecap="butt" stroke-linejoin="round"/>
<path d="M498.6 375.9L497.0 371.8M506.8 378.9L497.0 371.8L494.7 383.8" fill="none" stroke="#000" stroke-width="4.4" stroke-linecap="butt" stroke-linejoin="round"/>
<path d="M498.6 375.9L494.6 374.7M506.3 371.4L494.6 374.7L502.5 383.9" fill="none" stroke="#000" stroke-width="4.4" stroke-linecap="butt" stroke-linejoin="round"/>
<path d="M498.6 375.9L502.2 377.5M490.2 379.3L502.2 377.5L495.5 367.4" fill="none" stroke="#000" stroke-width="4.4" stroke-linecap="butt" stroke-linejoin="round"/>
<path d="M498.6 375.9L499.4 378.9M490.6 370.6L499.4 378.9L503.2 367.4" fill="none" stroke="#000" stroke-width="4.4" stroke-linecap="butt" stroke-linejoin="round"/>
<path d="M498.6 375.9L496.3 378.2M499.0 366.3L496.3 378.2L508.2 375.5" fill="none" stroke="#000" stroke-width="4.4" stroke-linecap="butt" stroke-linejoin="round"/>
<text transform="translate(520.87 220.30) scale(1 1.0)" font-size="46.0" text-anchor="start" stroke="#000" stroke-width="0.7" stroke-linejoin="round">Ia</text>
<text transform="translate(325.27 473.60) scale(1 1.0)" font-size="46.0" text-anchor="start" stroke="#000" stroke-width="0.7" stroke-linejoin="round">IIb</text>
<text transform="translate(668.37 455.70) scale(1 1.0)" font-size="46.0" text-anchor="start" stroke="#000" stroke-width="0.7" stroke-linejoin="round">IIa'</text>
<text transform="translate(560.87 489.00) scale(1 1.0)" font-size="46.0" text-anchor="start" stroke="#000" stroke-width="0.7" stroke-linejoin="round">IIIa'</text>
<text transform="translate(398.52 349.50) scale(1 1.0)" font-size="29.1" text-anchor="start" stroke="#000" stroke-width="0.5" stroke-linejoin="round">Ib</text>
<text transform="translate(404.22 401.10) scale(1 1.0)" font-size="29.1" text-anchor="start" stroke="#000" stroke-width="0.5" stroke-linejoin="round">IIa</text>
<text transform="translate(457.42 346.80) scale(1 1.0)" font-size="29.1" text-anchor="start" stroke="#000" stroke-width="0.5" stroke-linejoin="round">IIb&quot;</text>
<path d="M1487.8 453.9L1397.0 384.0M1410.6 384.8L1397.0 384.0L1401.2 396.9" fill="none" stroke="#000" stroke-width="4.4" stroke-linecap="butt" stroke-linejoin="round"/>
<path d="M1487.8 453.9L1413.6 499.1M1419.2 486.7L1413.6 499.1L1427.2 499.7" fill="none" stroke="#000" stroke-width="4.4" stroke-linecap="butt" stroke-linejoin="round"/>
<path d="M1487.8 453.9L1584.0 394.1M1578.5 406.5L1584.0 394.1L1570.4 393.5" fill="none" stroke="#000" stroke-width="4.4" stroke-linecap="butt" stroke-linejoin="round"/>
<path d="M1487.8 453.9L1574.3 489.7M1560.9 492.5L1574.3 489.7L1566.8 478.4" fill="none" stroke="#000" stroke-width="4.4" stroke-linecap="butt" stroke-linejoin="round"/>
<path d="M1487.8 453.9L1490.4 446.8M1492.9 458.7L1490.4 446.8L1480.8 454.2" fill="none" stroke="#000" stroke-width="4.4" stroke-linecap="butt" stroke-linejoin="round"/>
<path d="M1487.8 453.9L1493.9 450.4M1488.2 461.1L1493.9 450.4L1481.8 449.8" fill="none" stroke="#000" stroke-width="4.4" stroke-linecap="butt" stroke-linejoin="round"/>
<path d="M1487.8 453.9L1485.1 444.9M1494.3 452.8L1485.1 444.9L1481.8 456.6" fill="none" stroke="#000" stroke-width="4.4" stroke-linecap="butt" stroke-linejoin="round"/>
<path d="M1487.8 453.9L1482.6 450.5M1494.8 450.7L1482.6 450.5L1487.6 461.6" fill="none" stroke="#000" stroke-width="4.4" stroke-linecap="butt" stroke-linejoin="round"/>
<path d="M1487.8 453.9L1491.9 456.4M1479.8 456.7L1491.9 456.4L1486.5 445.5" fill="none" stroke="#000" stroke-width="4.4" stroke-linecap="butt" stroke-linejoin="round"/>
<path d="M1487.8 453.9L1488.7 459.9M1480.8 450.7L1488.7 459.9L1493.6 448.8" fill="none" stroke="#000" stroke-width="4.4" stroke-linecap="butt" stroke-linejoin="round"/>
<path d="M1487.8 453.9L1484.4 459.1M1484.6 446.9L1484.4 459.1L1495.5 454.1" fill="none" stroke="#000" stroke-width="4.4" stroke-linecap="butt" stroke-linejoin="round"/>
<path d="M1487.8 453.9L1480.4 465.1M1480.6 452.9L1480.4 465.1L1491.5 460.1" fill="none" stroke="#000" stroke-width="4.4" stroke-linecap="butt" stroke-linejoin="round"/>
<path d="M1487.8 453.9L1485.0 465.9M1481.0 454.5L1485.0 465.9L1493.7 457.4" fill="none" stroke="#000" stroke-width="4.4" stroke-linecap="butt" stroke-linejoin="round"/>
<path d="M1487.8 453.9L1492.8 445.3M1493.3 457.4L1492.8 445.3L1482.0 450.9" fill="none" stroke="#000" stroke-width="4.4" stroke-linecap="butt" stroke-linejoin="round"/>
<path d="M1487.8 453.9L1479.7 456.6M1487.4 447.2L1479.7 456.6L1491.5 459.5" fill="none" stroke="#000" stroke-width="4.4" stroke-linecap="butt" stroke-linejoin="round"/>
<text transform="translate(1346.57 365.80) scale(1 1.02)" font-size="48.2" text-anchor="start" stroke="#000" stroke-width="0.7" stroke-linejoin="round">Ia</text>
<text transform="translate(1357.37 546.00) scale(1 1.02)" font-size="48.2" text-anchor="start" stroke="#000" stroke-width="0.7" stroke-linejoin="round">IIa</text>
<text transform="translate(1579.17 381.40) scale(1 1.02)" font-size="48.2" text-anchor="start" stroke="#000" stroke-width="0.7" stroke-linejoin="round">IIa'</text>
<text transform="translate(1563.67 536.60) scale(1 1.02)" font-size="48.2" text-anchor="start" stroke="#000" stroke-width="0.7" stroke-linejoin="round">IIIa'</text>
</svg>
</body></html>
